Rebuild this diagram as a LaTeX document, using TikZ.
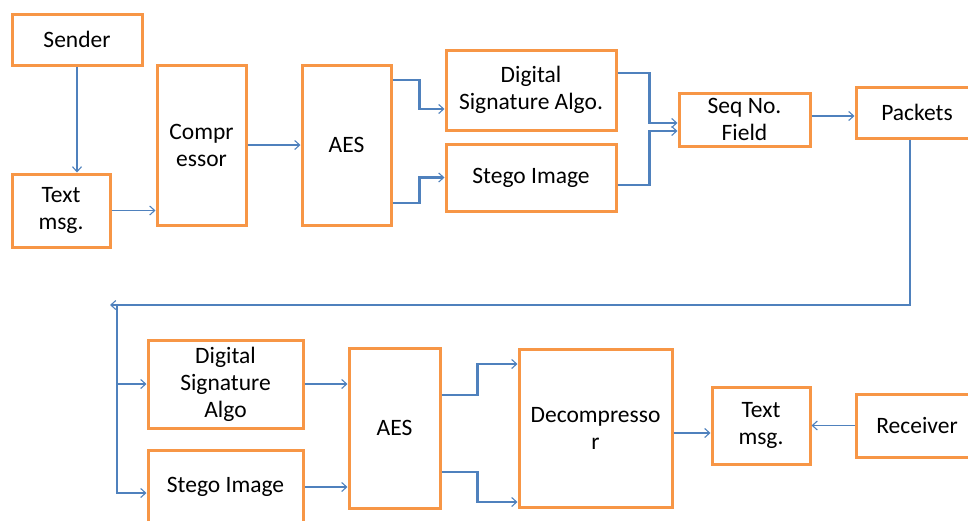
\documentclass[tikz,border=0pt]{standalone}
\usepackage{fontspec}
\setmainfont{Carlito}
\usetikzlibrary{arrows.meta}
\definecolor{boxorange}{HTML}{F79646}
\definecolor{lineblue}{HTML}{4F81BD}
\tikzset{
  blk/.style={draw=boxorange, line width=3pt, align=center, inner sep=0pt,
    font=\fontsize{23.5}{27}\selectfont},
  conn/.style={draw=lineblue, line width=1.2pt,
    -{Straight Barb[length=5pt,width=9pt,line width=1.1pt]}},
  thickconn/.style={conn, line width=2.2pt},
}
\begin{document}
\begin{tikzpicture}[x=1pt,y=-1pt]
\useasboundingbox (0,0) rectangle (968,520);
% top row
\node[blk, minimum width=130pt, minimum height=51pt] (sender) at (77,39.5) {Sender};
\node[blk, minimum width=98pt, minimum height=73pt] (textmsg) at (61,210.5) {Text\\msg.};
\node[blk, minimum width=89pt, minimum height=160pt] (compr) at (201.5,145) {Compr\\essor};
\node[blk, minimum width=89pt, minimum height=160pt] (aes) at (346.5,145) {AES};
\node[blk, minimum width=170pt, minimum height=80pt] (dsa) at (531,90) {Digital\\Signature Algo.};
\node[blk, minimum width=170pt, minimum height=67pt] (stego) at (531,177.5) {Stego Image};
\node[blk, minimum width=131pt, minimum height=53pt] (seq) at (744.5,119.5) {Seq No.\\Field};
\node[blk, minimum width=122pt, minimum height=51pt] (packets) at (917,112.5) {Packets};
% bottom row
\node[blk, minimum width=155pt, minimum height=88pt] (dsa2) at (225.5,384) {Digital\\Signature\\Algo};
\node[blk, minimum width=155pt, minimum height=74pt] (stego2) at (225.5,487) {Stego Image};
\node[blk, minimum width=91pt, minimum height=160pt] (aes2) at (394.5,428) {AES};
\node[blk, minimum width=153pt, minimum height=158pt] (decomp) at (595.5,428) {Decompresso\\r};
\node[blk, minimum width=98pt, minimum height=77pt] (text2) at (761,425.5) {Text\\msg.};
\node[blk, minimum width=122pt, minimum height=63pt] (receiver) at (917,425.5) {Receiver};
% connectors top
\draw[conn] (sender.south) -- (sender.south |- textmsg.north);
\draw[conn] (textmsg.east) -- (textmsg.east -| compr.west);
\draw[conn] (compr.east) -- (aes.west);
\draw[thickconn] ([yshift=65pt]aes.east) -- ++(27,0) |- ([yshift=-19pt]dsa.west);
\draw[thickconn] ([yshift=-58pt]aes.east) -- ++(27,0) |- (stego.west);
\draw[thickconn] ([yshift=17pt]dsa.east) -- ++(32,0) |- ([yshift=-3.5pt]seq.west);
\draw[thickconn] ([yshift=-7.5pt]stego.east) -- ++(32,0) |- ([yshift=-11.5pt]seq.west);
\draw[conn] ([yshift=3.5pt]seq.east) -- ([yshift=3.5pt]seq.east -| packets.west);
% loop
\coordinate (looptip) at (110,305);
\coordinate (split) at (117,305);
\draw[thickconn] ([xshift=-7pt]packets.south) |- (looptip);
\draw[conn] (split) |- (dsa2.west);
\draw[conn] (split) |- ([yshift=-6pt]stego2.west);
% connectors bottom
\draw[conn] (dsa2.east) -- (dsa2.east -| aes2.west);
\draw[conn] (stego2.east) -- (stego2.east -| aes2.west);
\draw[thickconn] ([yshift=33pt]aes2.east) -- ++(36,0) |- ([yshift=64pt]decomp.west);
\draw[thickconn] ([yshift=-44pt]aes2.east) -- ++(36,0) |- ([yshift=-74pt]decomp.west);
\draw[conn] ([yshift=-5pt]decomp.east) -- ([yshift=-5pt]decomp.east -| text2.west);
\draw[conn] (receiver.west) -- (text2.east);
\end{tikzpicture}
\end{document}
